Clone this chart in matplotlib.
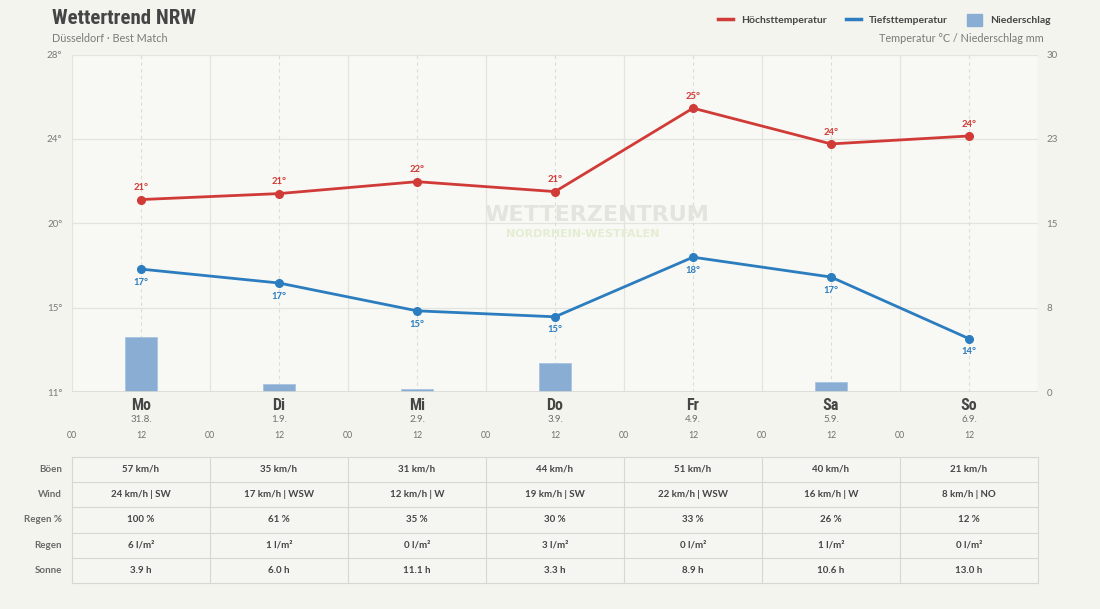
import numpy as np
import matplotlib.pyplot as plt
import matplotlib.transforms as mtrans
from matplotlib import font_manager
from matplotlib.lines import Line2D
from matplotlib.patches import Patch

# Chart data
days = ['Mo', 'Di', 'Mi', 'Do', 'Fr', 'Sa', 'So']
dates = ['31.8.', '1.9.', '2.9.', '3.9.', '4.9.', '5.9.', '6.9.']
t_max = [20.7, 21.0, 21.6, 21.1, 25.3, 23.5, 23.9]
t_min = [17.2, 16.5, 15.1, 14.8, 17.8, 16.8, 13.7]
precip = [4.9, 0.7, 0.3, 2.6, 0.0, 0.9, 0.0]

row_labels = ['Böen', 'Wind', 'Regen %', 'Regen', 'Sonne']
gusts = ['57 km/h', '35 km/h', '31 km/h', '44 km/h', '51 km/h', '40 km/h', '21 km/h']
wind = ['24 km/h | SW', '17 km/h | WSW', '12 km/h | W', '19 km/h | SW',
        '22 km/h | WSW', '16 km/h | W', '8 km/h | NO']
rain_prob = ['100 %', '61 %', '35 %', '30 %', '33 %', '26 %', '12 %']
rain_amount = ['6 l/m²', '1 l/m²', '0 l/m²', '3 l/m²', '0 l/m²', '1 l/m²', '0 l/m²']
sun = ['3.9 h', '6.0 h', '11.1 h', '3.3 h', '8.9 h', '10.6 h', '13.0 h']

RED = '#d03b37'
BLUE = '#2b7dbf'
BAR = '#8aadd4'
GRID = '#e3e4de'
TXT = '#454545'
GREY = '#7a7a7a'

plt.rcParams['font.family'] = ['Lato', 'DejaVu Sans']


# look for a bold condensed face for the headline / weekdays
def condensed_bold():
    found = []
    for f in font_manager.fontManager.ttflist:
        name = (f.name + ' ' + f.fname).lower()
        narrow = f.stretch in ('condensed', 'semi-condensed', 'extra-condensed') \
            or 'condensed' in name or 'narrow' in name
        w = f.weight if isinstance(f.weight, int) else 700 if 'bold' in str(f.weight) else 400
        if narrow and w >= 600 and f.style == 'normal' and 'extra' not in name \
                and 'mono' not in name and 'serif' not in name.replace('sans', ''):
            found.append(f)
    order = ['liberation sans narrow', 'roboto condensed', 'dejavu sans condensed',
             'noto sans condensed', 'open sans condensed']
    for key in order:
        for f in found:
            if key in (f.name + ' ' + f.fname).lower().replace('-', ' '):
                return font_manager.FontProperties(fname=f.fname), True
    if found:
        return font_manager.FontProperties(fname=found[0].fname), True
    return font_manager.FontProperties(family='DejaVu Sans', weight='bold'), False


COND, have_cond = condensed_bold()
scale = 1.0 if have_cond else 0.75

W, H = 1100, 609
fig = plt.figure(figsize=(W / 100, H / 100), dpi=100, facecolor='#f3f4ed')

# hours since Monday 00:00, points at noon
x_noon = 12 + 24 * np.arange(len(days))

ax2 = fig.add_axes([72 / W, 1 - 392.3 / H, 966 / W, 337.8 / H])
ax = ax2.twinx()
ax.set_zorder(ax2.get_zorder() + 1)
ax.patch.set_visible(False)
ax2.set_facecolor('#f8f8f4')

ax.set_xlim(0, 168)
ax.set_ylim(11, 28)
ax2.set_ylim(0, 30)

# precipitation bars
ax2.bar(x_noon, precip, width=5.6, color=BAR, edgecolor='#a9c3e0', linewidth=0.6, zorder=2)

# grid
left_ticks = np.linspace(11, 28, 5)
right_ticks = np.linspace(0, 30, 5)
for y in right_ticks:
    ax2.axhline(y, color=GRID, lw=0.9, zorder=1)
for xv in range(0, 169, 24):
    ax2.axvline(xv, color=GRID, lw=0.9, zorder=1)
for xv in x_noon:
    ax2.axvline(xv, color='#dcddd6', lw=0.8, ls=(0, (3, 3)), zorder=1)
ax2.axhline(0, color='#d9dad3', lw=1.2, zorder=3)

for a in (ax, ax2):
    for s in a.spines.values():
        s.set_visible(False)

ax.yaxis.tick_left()
ax2.yaxis.tick_right()
ax.set_yticks(left_ticks)
ax.set_yticklabels([f'{int(np.floor(v + 0.5))}°' for v in left_ticks])
ax2.set_yticks(right_ticks)
ax2.set_yticklabels([f'{int(np.floor(v + 0.5))}' for v in right_ticks])
ax.tick_params(axis='y', length=0, pad=7, labelsize=7, labelcolor=GREY)
ax2.tick_params(axis='y', length=0, pad=6, labelsize=7, labelcolor=GREY)
ax.set_xticks([])
ax2.set_xticks([])

# temperature lines
ax.plot(x_noon, t_max, color=RED, lw=2, marker='o', ms=5.5, zorder=5)
ax.plot(x_noon, t_min, color=BLUE, lw=2, marker='o', ms=5.5, zorder=5)
for xv, v in zip(x_noon, t_max):
    ax.annotate(f'{int(np.floor(v + 0.5))}°', (xv, v), xytext=(0, 8.5),
                textcoords='offset points', ha='center', va='center',
                fontsize=6.8, fontweight='bold', color=RED)
for xv, v in zip(x_noon, t_min):
    ax.annotate(f'{int(np.floor(v + 0.5))}°', (xv, v), xytext=(0, -9.5),
                textcoords='offset points', ha='center', va='center',
                fontsize=6.8, fontweight='bold', color=BLUE)

# watermark
fig.text(597 / W, 1 - 215 / H, 'WETTERZENTRUM', ha='center', va='center',
         fontsize=16, fontweight='bold', family='DejaVu Sans', color='#e3e4de', zorder=0)
fig.text(583 / W, 1 - 234 / H, 'NORDRHEIN-WESTFALEN', ha='center', va='center',
         fontsize=8, fontweight='bold', family='DejaVu Sans', color='#e4edd2', zorder=0)

# day / date / hour labels under the plot
tr = ax.get_xaxis_transform()
for xv, d, dt in zip(x_noon, days, dates):
    ax.text(xv, -0.038, d, transform=tr, ha='center', va='center',
            fontproperties=COND, fontsize=11.5 * scale, color=TXT)
    ax.text(xv, -0.082, dt, transform=tr, ha='center', va='center',
            fontsize=7, color='#6f6f6f')
for h in range(0, 168, 12):
    ax.text(h, -0.127, f'{h % 24:02d}', transform=tr, ha='center', va='center',
            fontsize=6.3, color='#6f6f6f')

# header
fig.text(52 / W, 1 - 18 / H, 'Wettertrend NRW', ha='left', va='center',
         fontproperties=COND, fontsize=15 * scale, color=TXT)
fig.text(52 / W, 1 - 39 / H, 'Düsseldorf · Best Match', ha='left', va='center',
         fontsize=7.8, color=GREY)
fig.text(1044 / W, 1 - 39 / H, 'Temperatur °C / Niederschlag mm', ha='right', va='center',
         fontsize=7.8, color=GREY)

handles = [Line2D([], [], color=RED, lw=2.5), Line2D([], [], color=BLUE, lw=2.5),
           Patch(facecolor=BAR, edgecolor=BAR)]
leg = fig.legend(handles, ['Höchsttemperatur', 'Tiefsttemperatur', 'Niederschlag'],
                 ncol=3, loc='center right', bbox_to_anchor=(1060 / W, 1 - 20 / H),
                 frameon=False, handlelength=1.5, handleheight=1.3, handletextpad=0.75,
                 columnspacing=1.8, prop={'size': 7.5, 'weight': 'bold'})
for t in leg.get_texts():
    t.set_color(TXT)

# table
tab = fig.add_axes([72 / W, 1 - 583.3 / H, 966 / W, 126.6 / H])
tab.set_facecolor('#f5f6f1')
tab.set_xlim(0, 168)
tab.set_ylim(5, 0)
tab.set_xticks([])
tab.set_yticks([])
for s in tab.spines.values():
    s.set_color('#d6d7d0')
    s.set_linewidth(0.8)
for r in range(1, 5):
    tab.axhline(r, color='#d6d7d0', lw=0.8)
for xv in range(24, 168, 24):
    tab.axvline(xv, color='#d6d7d0', lw=0.8)

rows = [gusts, wind, rain_prob, rain_amount, sun]
lab_tr = mtrans.blended_transform_factory(tab.transAxes, tab.transData)
for r, (lab, vals) in enumerate(zip(row_labels, rows)):
    tab.text(-0.0105, r + 0.5, lab, transform=lab_tr, ha='right', va='center',
             fontsize=7, fontweight='bold', color='#6a6a6a')
    for xv, v in zip(x_noon, vals):
        tab.text(xv, r + 0.5, v, ha='center', va='center',
                 fontsize=7, fontweight='bold', color=TXT)

fig.savefig('out.png', dpi=100, facecolor=fig.get_facecolor())
